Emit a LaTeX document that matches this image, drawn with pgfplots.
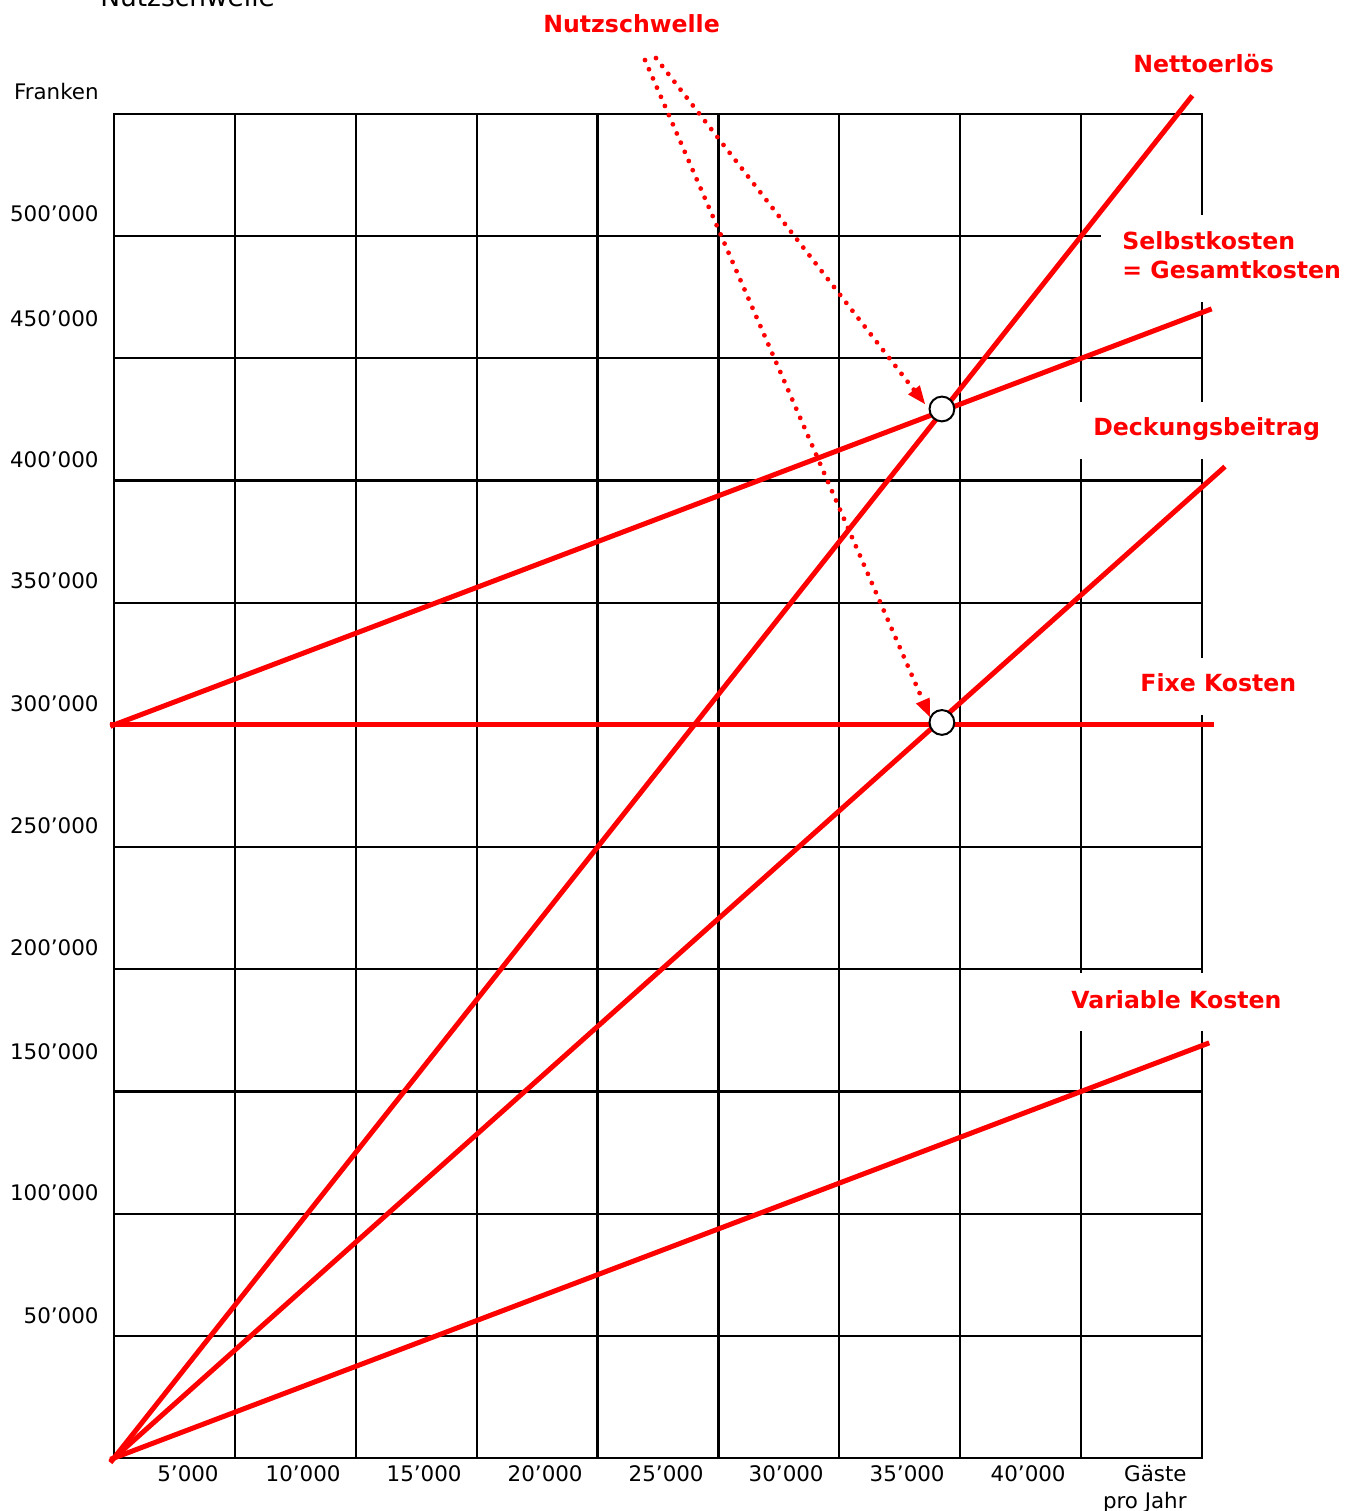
\documentclass[border=0pt]{standalone}
\usepackage{pgfplots}
\pgfplotsset{compat=1.18}
\usetikzlibrary{arrows.meta}
\usepackage{fontspec}
\setmainfont{DejaVu Sans}
\definecolor{rd}{RGB}{255,0,0}
\begin{document}
\begin{tikzpicture}
\begin{axis}[at={(0,0)}, anchor=south west, scale only axis,
  width=544pt, height=672pt,
  xmin=0, xmax=45000, ymin=0, ymax=550000,
  xtick={0,5000,...,45000}, ytick={0,50000,...,550000},
  xticklabels={}, yticklabels={}, major tick length=0pt,
  grid=major, major grid style={black, line width=1.1pt},
  axis line style={black, line width=1.1pt},
  clip=false, scaled ticks=false]
% Fixe Kosten
\addplot[rd, line width=2.5pt] coordinates {(-165,300000) (45500,300000)};
% Selbstkosten = Gesamtkosten
\addplot[rd, line width=2.5pt] coordinates {(-150,299438) (45400,470250)};
% Variable Kosten
\addplot[rd, line width=2.5pt] coordinates {(-150,-562) (45300,169875)};
% Nettoerloes
\addplot[rd, line width=2.5pt] coordinates {(-150,-1875) (44600,557500)};
% Deckungsbeitrag
\addplot[rd, line width=2.5pt] coordinates {(-150,-1325) (45950,405700)};
% Nutzschwelle arrows
\addplot[rd, line width=2.4pt, line cap=round, dash pattern=on 0pt off 5pt,
  -{Triangle[length=9pt,width=7.5pt,line width=0pt]}] coordinates {(22417,572880) (33543,431300)};
\addplot[rd, line width=2.4pt, line cap=round, dash pattern=on 0pt off 5pt,
  -{Triangle[length=9pt,width=7.5pt,line width=0pt]}] coordinates {(21962,572060) (33750,303220)};
% break-even points
\addplot[only marks, mark=*, mark size=6.2pt,
  mark options={fill=white, draw=black, line width=1pt}] coordinates {(34243,429280) (34243,301000)};
\end{axis}
\begin{scope}[x=0.5pt, y=-0.5pt, shift={(-57pt,729pt)}]
  % label backgrounds
  \fill[white] (1101,215) rectangle (1365,302);
  \fill[white] (1073,402) rectangle (1365,459);
  \fill[white] (1120,658) rectangle (1365,715);
  \fill[white] (1051,973) rectangle (1365,1031);
  % axis labels
  \begin{scope}[every node/.style={anchor=base east, inner sep=0pt, font=\fontsize{10.7}{12}\selectfont}]
    \node at (99,100) {Franken};
    \node at (99,222) {500’000};
    \node at (99,327) {450’000};
    \node at (99,468) {400’000};
    \node at (99,589) {350’000};
    \node at (99,712) {300’000};
    \node at (99,834) {250’000};
    \node at (99,956) {200’000};
    \node at (99,1060) {150’000};
    \node at (99,1201) {100’000};
    \node at (99,1324) {50’000};
    \node at (219,1482) {5’000};
    \node at (341,1482) {10’000};
    \node at (462,1482) {15’000};
    \node at (583,1482) {20’000};
    \node at (704,1482) {25’000};
    \node at (824,1482) {30’000};
    \node at (945,1482) {35’000};
    \node at (1066,1482) {40’000};
    \node at (1187,1482) {Gäste};
    \node at (1187,1508) {pro Jahr};
  \end{scope}
  \node[anchor=base west, inner sep=0pt, font=\fontsize{13.2}{15}\selectfont] at (100,7) {Nutzschwelle};
  \begin{scope}[every node/.style={anchor=base west, inner sep=0pt, text=rd, font=\fontsize{11.8}{14}\selectfont\bfseries}]
    \node at (543,33) {Nutzschwelle};
    \node at (1133,73) {Nettoerlös};
    \node at (1122,250) {Selbstkosten};
    \node at (1122,279) {= Gesamtkosten};
    \node at (1093,436) {Deckungsbeitrag};
    \node at (1140,692) {Fixe Kosten};
    \node at (1071,1009) {Variable Kosten};
  \end{scope}
  \pgfresetboundingbox
  \path[use as bounding box] (0,0) rectangle (1359,1511);
\end{scope}
\end{tikzpicture}
\end{document}
